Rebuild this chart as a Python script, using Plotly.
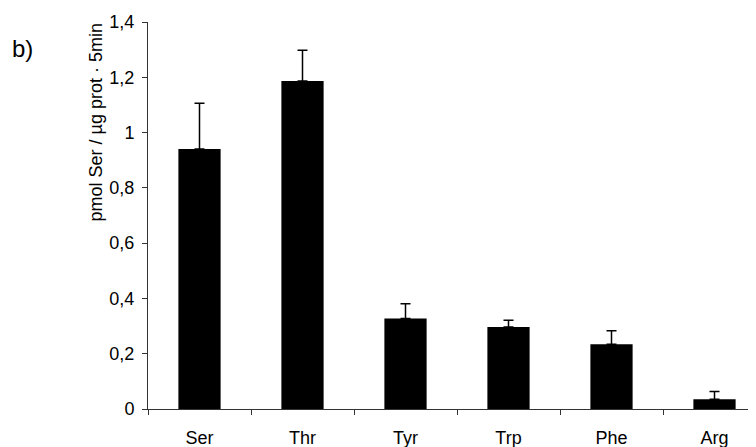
import plotly.graph_objects as go

categories = ["Ser", "Thr", "Tyr", "Trp", "Phe", "Arg"]
values = [0.941, 1.187, 0.327, 0.297, 0.234, 0.035]
errors = [0.165, 0.111, 0.054, 0.024, 0.049, 0.028]
ytick_vals = [0, 0.2, 0.4, 0.6, 0.8, 1.0, 1.2, 1.4]
ytick_text = ["0", "0,2", "0,4", "0,6", "0,8", "1", "1,2", "1,4"]
y_title = "pmol Ser / µg prot · 5min"
panel_label = "b)"

FONT = "Liberation Sans, Arial, sans-serif"

# page body has an 8px default margin -> compensate
OFF = 8
W, H = 756 - OFF, 447 - OFF
AX_L, AX_T, AX_B = 148, 22, 409  # target pixel positions in the window
L = AX_L - OFF
T = AX_T - OFF
B = H - (AX_B - OFF)
pw = W - L
ph = H - T - B

fig = go.Figure(
    go.Bar(
        x=categories,
        y=values,
        width=0.41,
        marker=dict(color="black", line=dict(width=0)),
        error_y=dict(
            type="data",
            symmetric=False,
            array=errors,
            arrayminus=[0] * len(errors),
            color="black",
            thickness=1.5,
            width=5,
        ),
    )
)

fig.update_layout(
    width=W,
    height=H,
    margin=dict(l=L, r=0, t=T, b=B, pad=0),
    plot_bgcolor="white",
    paper_bgcolor="white",
    showlegend=False,
    font=dict(family=FONT, size=18, color="black"),
    xaxis=dict(
        type="category",
        range=[-0.5, -0.5 + (756 - AX_L) / 103.0],
        showline=True,
        linecolor="#333",
        linewidth=1,
        ticks="outside",
        tickson="boundaries",
        ticklen=5,
        tickcolor="#333",
        showgrid=False,
        zeroline=False,
        tickfont=dict(size=18),
        ticklabelstandoff=12,
    ),
    yaxis=dict(
        range=[0, 1.4],
        tickvals=ytick_vals,
        ticktext=ytick_text,
        showline=True,
        linecolor="#333",
        linewidth=1,
        ticks="outside",
        ticklen=5,
        tickcolor="#333",
        showgrid=False,
        zeroline=False,
        tickfont=dict(size=18),
        ticklabelstandoff=4,
    ),
    annotations=[
        dict(
            text=y_title,
            xref="paper",
            yref="paper",
            x=(95 - AX_L) / pw,
            y=(AX_B - 122.5) / ph,
            xanchor="center",
            yanchor="middle",
            textangle=-90,
            showarrow=False,
            font=dict(size=18),
        ),
        dict(
            text=panel_label,
            xref="paper",
            yref="paper",
            x=(22 - AX_L) / pw,
            y=(AX_B - 48) / ph,
            xanchor="center",
            yanchor="middle",
            showarrow=False,
            font=dict(size=24),
        ),
    ],
)

fig.write_html("out.html")
